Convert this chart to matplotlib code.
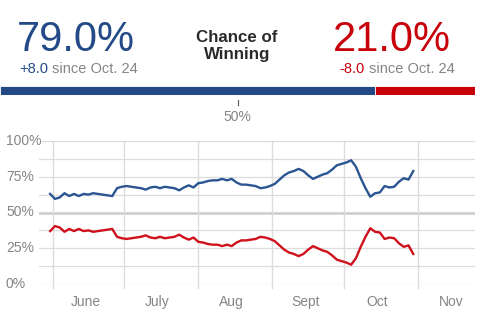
import matplotlib
matplotlib.use("Agg")
import matplotlib.pyplot as plt
import matplotlib.dates as mdates
import matplotlib.transforms as mtransforms
import pandas as pd

plt.rcParams['font.family'] = ['Liberation Sans', 'DejaVu Sans']

# poll-model win chances, sampled every 2 days from May 31
start_date = "2016-05-31"
dem_chance = [63, 59.5, 60.5, 63.5, 61.5, 63, 61.5, 63, 62.5, 63.5, 63, 62.5, 62, 61.5, 67, 68,
              68.5, 68, 67.5, 67, 66, 67.5, 68, 67, 68, 67.5, 67, 65.5, 67.5, 69, 67.5,
              70.5, 71, 72, 72.5, 72.5, 73.5, 72.5, 73.5, 71, 69.5, 69.5, 69, 68.5, 67, 67.5, 68.5,
              70, 73, 76, 78, 79, 80.5, 79, 76, 73.5, 75, 76.5, 77.5, 80, 83, 84,
              85, 86.5, 82, 74, 67, 61, 63.5, 64, 68.5, 67.5, 68, 71.5, 74, 73, 79]
rep_chance = [37, 40.5, 39.5, 36.5, 38.5, 37, 38.5, 37, 37.5, 36.5, 37, 37.5, 38, 38.5, 33, 32,
              31.5, 32, 32.5, 33, 34, 32.5, 32, 33, 32, 32.5, 33, 34.5, 32.5, 31, 32.5,
              29.5, 29, 28, 27.5, 27.5, 26.5, 27.5, 26.5, 29, 30.5, 30.5, 31, 31.5, 33, 32.5, 31.5,
              30, 27, 24, 22, 21, 19.5, 21, 24, 26.5, 25, 23.5, 22.5, 20, 17, 16,
              15, 13.5, 18, 26, 33, 39, 36.5, 36, 31.5, 32.5, 32, 28.5, 26, 27, 21]

current = [79.0, 21.0]
change = ["+8.0", "-8.0"]
since_label = "since Oct. 24"
month_starts = ["2016-06-01", "2016-07-01", "2016-08-01", "2016-09-01", "2016-10-01", "2016-11-01"]
month_mids = ["2016-06-15", "2016-07-15", "2016-08-15", "2016-09-15", "2016-10-15", "2016-11-15"]
month_names = ["June", "July", "Aug", "Sept", "Oct", "Nov"]
y_ticks = [0, 25, 50, 75, 100]

BLUE = '#234a87'
RED = '#c8000a'
LBLUE = '#2b5592'
LRED = '#d0101a'
GRAY = '#858585'
GRID = '#dcdcdc'

W, H = 488, 336
fig = plt.figure(figsize=(W / 100, H / 100), dpi=100)


def fx(px):
    return px / W


def fy(py):
    return 1 - py / H


# header numbers
fig.text(fx(17), fy(51), f"{current[0]:.1f}%", color=BLUE, fontsize=30, va='baseline')
fig.text(fx(19), fy(73), change[0], color=BLUE, fontsize=10.5, va='baseline')
fig.text(fx(52), fy(73), since_label, color=GRAY, fontsize=10.5, va='baseline')

fig.text(fx(333), fy(51), f"{current[1]:.1f}%", color=RED, fontsize=30, va='baseline')
fig.text(fx(339), fy(73), change[1], color=RED, fontsize=10.5, va='baseline')
fig.text(fx(369), fy(73), since_label, color=GRAY, fontsize=10.5, va='baseline')

fig.text(fx(237), fy(42), "Chance of", color='#2a2a2a', fontsize=12.2, fontweight='bold',
         ha='center', va='baseline')
fig.text(fx(237), fy(59), "Winning", color='#2a2a2a', fontsize=12.2, fontweight='bold',
         ha='center', va='baseline')

# split bar
bar_ax = fig.add_axes([0, fy(94.5), fx(475), 8.5 / H])
bar_ax.barh([0], [current[0]], height=1, color=BLUE, edgecolor='white', linewidth=0.6)
bar_ax.barh([0], [current[1]], left=[current[0]], height=1, color=RED, edgecolor='white', linewidth=0.6)
bar_ax.set_xlim(0, 100)
bar_ax.set_ylim(-0.5, 0.5)
bar_ax.axis('off')
bar_ax.plot([50, 50], [-1.1, -1.75], color='#555555', lw=0.8, clip_on=False)
bar_ax.text(50, -3.1, "50%", color=GRAY, fontsize=10, ha='center', va='center')

# line chart
ax = fig.add_axes([fx(39), fy(284), fx(475) - fx(39), (284 - 141) / H])
dates = pd.date_range(start_date, periods=len(dem_chance), freq="2D")
ax.set_xlim(mdates.date2num(pd.Timestamp("2016-05-26 08:00")),
            mdates.date2num(pd.Timestamp("2016-11-24 20:00")))
ax.set_ylim(0, 100)

for v in [0, 12.5, 25, 37.5, 62.5, 75, 87.5, 100]:
    ax.axhline(v, color=GRID, lw=0.9, zorder=0)
ax.axhline(50, color='#cccccc', lw=1.8, zorder=0)
for d in month_starts:
    ax.axvline(mdates.date2num(pd.Timestamp(d)), ymin=-0.03, ymax=1, color=GRID, lw=1.0,
               zorder=0, clip_on=False)

ax.plot(dates, dem_chance, color=LBLUE, lw=1.7, solid_joinstyle='round')
ax.plot(dates, rep_chance, color=LRED, lw=1.7, solid_joinstyle='round')

for s in ax.spines.values():
    s.set_visible(False)
ax.set_yticks([])
ax.set_xticks([mdates.date2num(pd.Timestamp(d)) for d in month_mids])
ax.set_xticklabels(month_names)
ax.tick_params(axis='x', length=0, pad=8, labelsize=10, labelcolor=GRAY)

trans = mtransforms.blended_transform_factory(fig.transFigure, ax.transData)
for v in y_ticks:
    ax.text(fx(6), v, f"{v}%", transform=trans, color=GRAY, fontsize=10, ha='left', va='center',
            bbox=dict(fc='white', ec='none', pad=0.5), zorder=5)

fig.savefig("out.png", dpi=100)
